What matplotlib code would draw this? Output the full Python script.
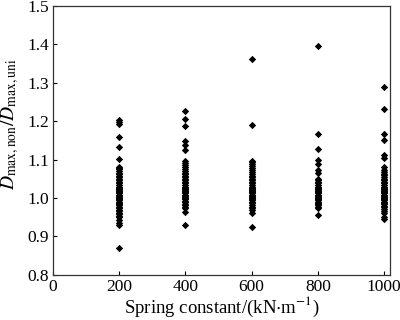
import matplotlib
matplotlib.use('Agg')
import matplotlib.pyplot as plt

plt.rcParams['font.family'] = 'Liberation Serif'
plt.rcParams['mathtext.fontset'] = 'stix'
font = 12.5

# Spring constants (kN/m)
k_values = [200, 400, 600, 800, 1000]

# D_max,non / D_max,uni, one list per spring constant
ratio_200 = [1.203, 1.198, 1.194, 1.158, 1.134, 1.103, 1.082, 1.078, 1.075, 1.070,
             1.066, 1.062, 1.058, 1.054, 1.050, 1.046, 1.042, 1.038, 1.034, 1.030,
             1.027, 1.024, 1.021, 1.018, 1.015, 1.012, 1.009, 1.006, 1.003, 1.000,
             0.997, 0.994, 0.991, 0.988, 0.985, 0.982, 0.978, 0.974, 0.970, 0.966,
             0.962, 0.958, 0.954, 0.950, 0.943, 0.936, 0.930, 0.869]
ratio_400 = [1.228, 1.207, 1.187, 1.149, 1.138, 1.124, 1.097, 1.092, 1.086, 1.081,
             1.076, 1.071, 1.066, 1.062, 1.058, 1.054, 1.050, 1.046, 1.042, 1.038,
             1.034, 1.030, 1.027, 1.024, 1.021, 1.018, 1.015, 1.012, 1.009, 1.006,
             1.003, 1.000, 0.997, 0.993, 0.989, 0.985, 0.981, 0.977, 0.973, 0.963,
             0.930]
ratio_600 = [1.362, 1.190, 1.097, 1.093, 1.088, 1.083, 1.078, 1.073, 1.068, 1.063,
             1.058, 1.054, 1.050, 1.046, 1.042, 1.038, 1.034, 1.030, 1.027, 1.024,
             1.021, 1.018, 1.015, 1.012, 1.009, 1.006, 1.003, 1.000, 0.997, 0.994,
             0.990, 0.986, 0.982, 0.978, 0.973, 0.968, 0.962, 0.925]
ratio_800 = [1.397, 1.167, 1.127, 1.100, 1.090, 1.072, 1.065, 1.050, 1.046, 1.042,
             1.038, 1.034, 1.030, 1.027, 1.024, 1.021, 1.018, 1.015, 1.012, 1.009,
             1.006, 1.003, 1.000, 0.997, 0.994, 0.991, 0.988, 0.985, 0.982, 0.978,
             0.974, 0.955]
ratio_1000 = [1.288, 1.231, 1.167, 1.150, 1.113, 1.104, 1.080, 1.074, 1.069, 1.064,
              1.059, 1.054, 1.050, 1.046, 1.042, 1.038, 1.034, 1.030, 1.027, 1.024,
              1.021, 1.018, 1.015, 1.012, 1.009, 1.006, 1.003, 1.000, 0.997, 0.994,
              0.991, 0.988, 0.984, 0.980, 0.976, 0.972, 0.967, 0.962, 0.952, 0.945]

all_ratios = [ratio_200, ratio_400, ratio_600, ratio_800, ratio_1000]

fig = plt.figure(figsize=(4, 3.2), dpi=100)
ax = fig.add_axes([0.1325, 0.141, 0.8425, 0.840])

for k, vals in zip(k_values, all_ratios):
    ax.scatter([k] * len(vals), vals, marker='D', s=14, color='black',
               linewidths=0, zorder=3)

ax.set_xlim(0, 1018)
ax.set_ylim(0.8, 1.5)
ax.set_xticks([0, 200, 400, 600, 800, 1000])
ax.set_yticks([0.8, 0.9, 1.0, 1.1, 1.2, 1.3, 1.4, 1.5])
ax.set_yticklabels(['0.8', '0.9', '1.0', '1.1', '1.2', '1.3', '1.4', '1.5'])
ax.tick_params(direction='in', length=3, width=0.8, labelsize=font,
               top=False, right=False, pad=3)
for sp in ax.spines.values():
    sp.set_linewidth(0.9)
    sp.set_color('#333333')

ax.set_xlabel(r'Spring constant/(kN$\cdot$m$^{-1}$)', fontsize=13.5, labelpad=0)
ax.set_ylabel(r'$D_{\rm max,non}/D_{\rm max,uni}$', fontsize=14)
ax.yaxis.set_label_coords(-0.095, 0.56)

fig.savefig('out.png', dpi=100)
